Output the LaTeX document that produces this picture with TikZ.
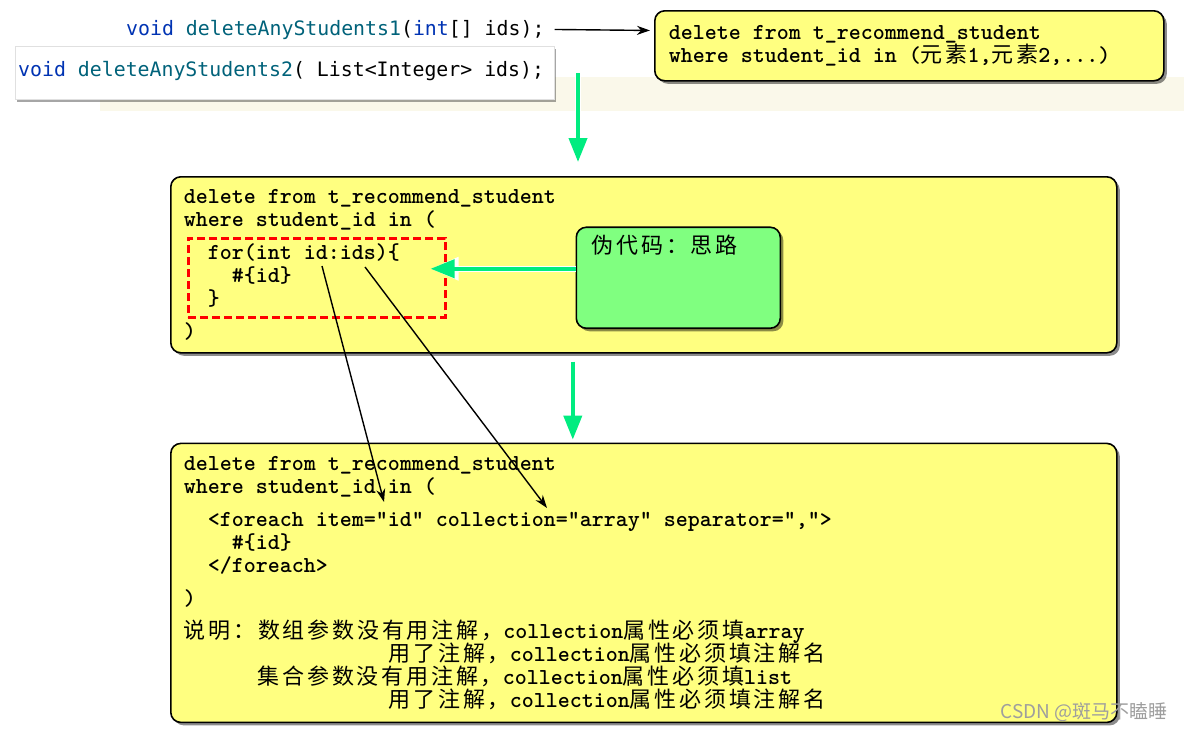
\documentclass[tikz,border=0pt]{standalone}
\usepackage{fontspec}
\usepackage{xcolor}
\usepackage{tikz}
\usetikzlibrary{arrows.meta,positioning,calc,shadows}

\newcommand{\sqlfont}{\ttfamily\bfseries}
\newfontfamily\idefont{DejaVu Sans Mono}
\newfontfamily\zhfont{Noto Sans CJK SC}[LetterSpace=12.7]
\newfontfamily\wmfont{Noto Sans CJK SC}
\newcommand{\zh}[1]{{\zhfont\mdseries\fontsize{22}{23}\selectfont #1}}

\definecolor{noteyellow}{RGB}{255,255,128}
\definecolor{notegreen}{RGB}{128,255,128}
\definecolor{flowgreen}{RGB}{0,236,128}
\definecolor{kwblue}{RGB}{0,51,179}
\definecolor{fnteal}{RGB}{0,98,122}
\definecolor{bandbeige}{RGB}{250,248,234}

\begin{document}
\begin{tikzpicture}[
    x=1pt, y=-1pt,
    boxshadow/.style={drop shadow={shadow xshift=3pt, shadow yshift=-3pt, fill=black, opacity=0.45}},
    sqlbox/.style={rectangle, rounded corners=10pt, draw=black, line width=1.6pt, fill=noteyellow, boxshadow, anchor=north west, align=left, inner ysep=0pt, text width=920pt, inner xsep=13pt, font={\sqlfont\fontsize{22.86}{23}\selectfont\lineskiplimit=-50pt}, execute at begin node={\spaceskip=12pt\xspaceskip=12pt\relax}},
    notebox/.style={rectangle, rounded corners=10pt, draw=black, line width=1.6pt, fill=notegreen, boxshadow, minimum width=204pt, minimum height=101pt},
    dashbox/.style={rectangle, draw=red, line width=2.5pt, dash pattern=on 8pt off 4pt, anchor=north west},
    sigbox/.style={rectangle, fill=white, draw=black!12, drop shadow={shadow xshift=2pt, shadow yshift=-2.5pt, fill=black, opacity=0.35}, anchor=north west},
    sig/.style={anchor=base west, inner sep=0pt, font=\idefont\fontsize{19.85}{23}\selectfont},
    flowarrow/.style={draw=flowgreen, line width=4pt, -{Triangle[width=18pt,length=24pt]}, preaction={draw=white, line width=6pt, -{Triangle[width=22pt,length=28pt]}}},
    link/.style={draw=black, line width=1.4pt, -{Stealth[length=13pt,width=9pt]}},
]

% Page and background strip
\path[fill=white, use as bounding box] (0,0) rectangle (1184,731);
\fill[bandbeige] (100,77) rectangle (1184,111);

% Mapper signatures
\node[sig] (sig1) at (126,35) {{\color{kwblue}void} {\color{fnteal}deleteAnyStudents1}({\color{kwblue}int}[] ids);};
\node[sigbox, minimum width=539pt, minimum height=53pt] (sig2box) at (15,46) {};
\node[sig] (sig2) at (18,76) {{\color{kwblue}void} {\color{fnteal}deleteAnyStudents2}( List<Integer> ids);};

% Target SQL
\node[sqlbox, text width=481pt, inner xsep=14pt, minimum height=70pt] (sqltop) at (654,10) {delete from t\_recommend\_student\\
where student\_id in (\zh{元素}1,\zh{元素}2,...)};

% Pseudo code
\node[sqlbox, minimum height=176pt] (mid) at (170,176) {delete from t\_recommend\_student\\
where student\_id in (\\[10pt]
\hspace*{24pt}for(int id:ids)\{\\
\hspace*{48pt}\#\{id\}\\
\hspace*{24pt}\}\\[10pt]
)};
\node[dashbox, minimum width=257pt, minimum height=79pt] (forbox) at (187,237) {};
\node[notebox, right=129pt of forbox] (note) {};
\node[anchor=base west, inner sep=0pt] (notetext) at ($(note.north west)+(16,27)$) {\zh{伪代码：思路}};

% Mapper xml
\node[sqlbox, minimum height=279pt, below=89pt of mid] (low) {delete from t\_recommend\_student\\
where student\_id in (\\[10pt]
\hspace*{24pt}<foreach item="id" collection="array" separator=",">\\
\hspace*{48pt}\#\{id\}\\
\hspace*{24pt}</foreach>\\[10pt]
)\\[10pt]
\zh{说明：数组参数没有用注解，}collection\zh{属性必须填}array\\
\hspace*{205pt}\zh{用了注解，}collection\zh{属性必须填注解名}\\
\hspace*{74pt}\zh{集合参数没有用注解，}collection\zh{属性必须填}list\\
\hspace*{205pt}\zh{用了注解，}collection\zh{属性必须填注解名}};

% Anchors for the variable links
\coordinate (down1) at (578,73);
\coordinate (idvar) at (322,266);
\coordinate (idsvar) at (365,267);
\coordinate (itemid) at (384,502);
\coordinate (collarray) at (547,508);

% Arrows
\draw[link] ([xshift=10pt]sig1.east) -- ([xshift=-4pt,yshift=-1pt]sig1.east -| sqltop.west);
\draw[flowarrow] (down1) -- ($(down1 |- mid.north)+(0,-14)$);
\draw[flowarrow] ($(note.west)+(0,-9)$) -- ($(forbox.east)+(-16,-9)$);
\draw[flowarrow] ($(mid.south)+(-71,8)$) -- ($(low.north)+(-71,-3)$);
\draw[link] (idvar) -- (itemid);
\draw[link] (idsvar) -- (collarray);

% Watermark
\node[anchor=east, inner sep=0pt, text=black!38, font=\wmfont\fontsize{19}{22}\selectfont] (mark) at (1168,712) {CSDN @斑马不瞌睡};

\end{tikzpicture}
\end{document}
